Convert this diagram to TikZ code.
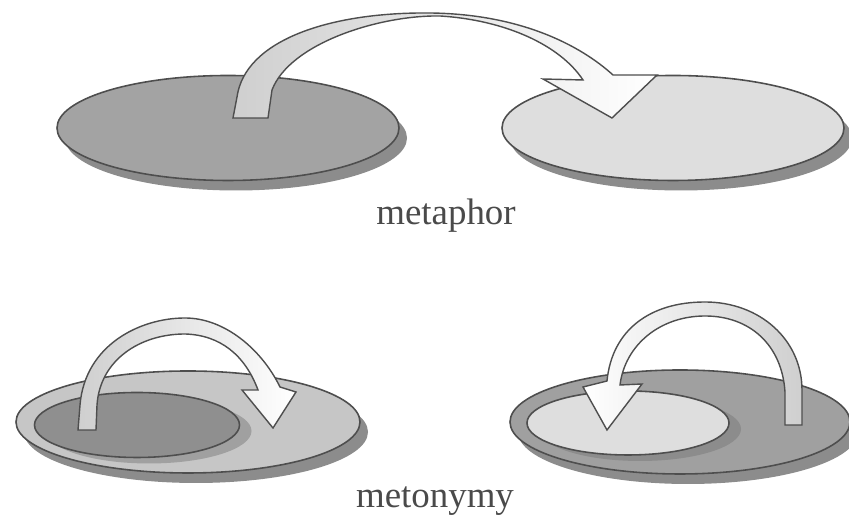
\documentclass[tikz,border=0pt]{standalone}
\usepackage{fontspec}
\setmainfont{Liberation Serif}
\usetikzlibrary{shapes.geometric,shadows}
\definecolor{edgegray}{HTML}{4E4E4E}
\definecolor{textgray}{HTML}{4A4A4A}
\definecolor{darkdisc}{HTML}{A3A3A3}
\definecolor{lightdisc}{HTML}{DEDEDE}
\definecolor{paledisc}{HTML}{C6C6C6}
\definecolor{deepdisc}{HTML}{8F8F8F}
\definecolor{shadowgray}{HTML}{8C8C8C}
\definecolor{midgray}{HTML}{A0A0A0}
\definecolor{ribbongray}{HTML}{CFCFCF}
\begin{document}
\begin{tikzpicture}[
        x=0.2mm, y=0.2mm,
        disc/.style = {draw=edgegray, line width=0.9pt, ellipse, inner sep=0pt},
        bigdisc/.style = {disc, minimum width=68.4mm, minimum height=21mm,
            drop shadow={shadow xshift=1.6mm, shadow yshift=-2mm, fill=shadowgray, opacity=1}},
        smalldisc/.style = {disc, minimum width=41mm, minimum height=13mm,
            drop shadow={shadow xshift=2.4mm, shadow yshift=-1.2mm, fill=#1, opacity=1}},
        ribbon/.style = {draw=edgegray, line width=0.8pt},
        legende/.style = {font=\fontsize{21}{25}\selectfont, text=textgray, anchor=base}
    ]
        \useasboundingbox (0,0) rectangle (849,515);

        % Métaphore : deux domaines séparés
        \node[bigdisc, fill=darkdisc] (source) at (228,387) {};
        \node[bigdisc, fill=lightdisc] (target) at (673,387) {};
        \draw[ribbon, left color=ribbongray, right color=white]
            (233,397) -- (237,418) .. controls (245,475) and (330,503) .. (430,502)
            .. controls (520,501) and (580,470) .. (613,440)
            -- (657,440) -- (612,397) -- (543,436) -- (583,435)
            .. controls (560,470) and (505,495) .. (440,499)
            .. controls (380,500) and (290,472) .. (272,425) -- (268,397) -- cycle;
        \node[legende] (metaphor) at (446,290) {metaphor};

        % Métonymie : un sous-domaine dans le domaine
        \node[bigdisc, fill=paledisc, minimum width=68.8mm, minimum height=20.4mm] (leftdomain) at (188,93) {};
        \node[smalldisc=midgray, fill=deepdisc] (leftsub) at (137,90) {};
        \draw[ribbon, left color=ribbongray, right color=white]
            (78,85) -- (80,110) .. controls (85,170) and (140,197) .. (185,197)
            .. controls (225,197) and (262,165) .. (280,128)
            -- (296,123) -- (273,87) -- (242,125) -- (258,125)
            .. controls (245,160) and (220,180) .. (185,181)
            .. controls (140,181) and (100,155) .. (97,110) -- (96,85) -- cycle;

        \node[bigdisc, fill=midgray, minimum width=68mm, minimum height=20.8mm] (rightdomain) at (680,93) {};
        \node[smalldisc=shadowgray, fill=lightdisc, minimum width=40.4mm, minimum height=12.8mm] (rightsub) at (628,92) {};
        \draw[ribbon, left color=white, right color=ribbongray]
            (607,134) .. controls (612,185) and (650,213) .. (705,213)
            .. controls (760,213) and (802,175) .. (802,125)
            -- (802,90) -- (785,90) -- (785,123)
            .. controls (782,170) and (750,199) .. (705,199)
            .. controls (660,199) and (625,170) .. (620,130)
            -- (642,131) -- (607,85) -- (583,128) -- cycle;
        \node[legende] (metonymy) at (435,7) {metonymy};
    \end{tikzpicture}
\end{document}
